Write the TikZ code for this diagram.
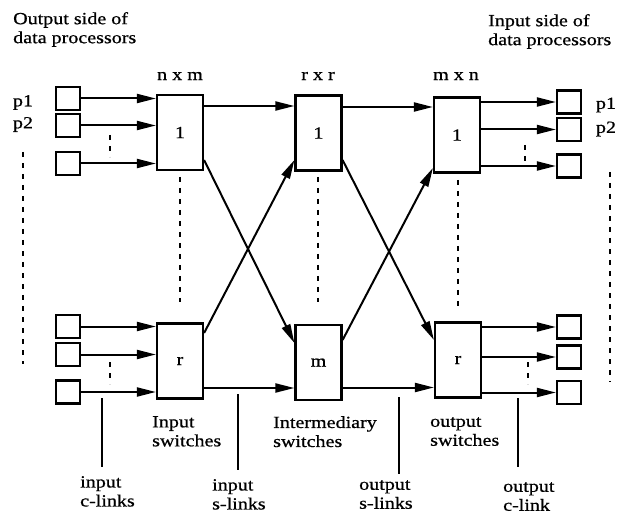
\documentclass[tikz,border=0pt]{standalone}
\usepackage{fontspec}
\setmainfont{Liberation Serif}[FakeStretch=1.18,FakeBold=0.7]
\usetikzlibrary{arrows.meta,calc}
\newcommand\dfont{\fontsize{17}{19}\selectfont}
\begin{document}
\begin{tikzpicture}[x=1pt,y=-1pt,
  pbox/.style={draw,line width=2.2pt,minimum width=24pt,minimum height=23pt,inner sep=0},
  sw/.style={draw,line width=2.2pt,minimum width=46pt,minimum height=75pt,inner sep=0,font=\dfont},
  arr/.style={line width=2pt,-{Triangle[length=19pt,width=9pt]}},
  dots/.style={line width=2.6pt,dash pattern=on 5pt off 6pt},
  tick/.style={line width=1.8pt},
  lbl/.style={font=\dfont,inner sep=0,anchor=north west,align=left},
  plbl/.style={font=\dfont,inner sep=0},
]
\useasboundingbox (0,0) rectangle (622,516);
% processor boxes left
\node[pbox] (l1) at (68,98.5) {};
\node[pbox] (l2) at (68,125.5) {};
\node[pbox] (l3) at (68,163.5) {};
\node[pbox] (l4) at (68,326.5) {};
\node[pbox] (l5) at (68,354.5) {};
\node[pbox] (l6) at (68,392) {};
% switches
\node[sw] (i1) at (180,132.5) {1};
\node[sw] (ir) at (180,361) {r};
\node[sw] (m1) at (318.5,133) {1};
\node[sw] (mm) at (318.5,362.5) {m};
\node[sw] (o1) at (457,135) {1};
\node[sw] (or) at (458,360) {r};
% processor boxes right
\node[pbox] (r1) at (569,102) {};
\node[pbox] (r2) at (569,129.5) {};
\node[pbox] (r3) at (569,166) {};
\node[pbox] (r4) at (569,327) {};
\node[pbox] (r5) at (569,357) {};
\node[pbox] (r6) at (569,392.5) {};
% input c-links
\foreach \b/\s in {l1/i1,l2/i1,l3/i1,l4/ir,l5/ir,l6/ir}
  \draw[arr] (\b.east) -- (\b.east -| \s.west);
% output c-links
\foreach \b/\s in {r1/o1,r2/o1,r3/o1,r4/or,r5/or,r6/or}
  \draw[arr] (\s.east |- \b.west) -- (\b.west);
% straight s-links
\draw[arr] ([yshift=26.5pt]i1.east) -- ([yshift=26.5pt]i1.east -| m1.west);
\draw[arr] ([yshift=-27pt]ir.east) -- ([yshift=-27pt]ir.east -| mm.west);
\draw[arr] ([yshift=26pt]m1.east) -- ([yshift=26pt]m1.east -| o1.west);
\draw[arr] ([yshift=-25pt]mm.east) -- ([yshift=-25pt]mm.east -| or.west);
% crossing s-links
\draw[arr] ([yshift=-27.5pt]i1.east) -- ([yshift=19.5pt]mm.west);
\draw[arr] ([yshift=28pt]ir.east) -- ([yshift=-27pt]m1.west);
\draw[arr] ([yshift=-27pt]m1.east) -- ([yshift=20pt]or.west);
\draw[arr] ([yshift=22.5pt]mm.east) -- ([yshift=-33pt]o1.west);
% dotted lines
\draw[dots] (110,135) -- (110,157);
\draw[dots] (110,362) -- (110,384);
\draw[dots] (525,145) -- (525,162);
\draw[dots] (528,362) -- (528,384);
\draw[dots] (23,152) -- (23,364);
\draw[dots] (610,172) -- (610,382);
\draw[dots] (180,177) -- (180,302);
\draw[dots] (318,177) -- (318,302);
\draw[dots] (458,180) -- (458,306);
% label lines
\draw[tick] (102,398) -- (102,467);
\draw[tick] (238,394) -- (238,470);
\draw[tick] (399,397) -- (399,474);
\draw[tick] (518,398) -- (518,467);
% texts
\node[lbl] (tl) at (13,12) {Output side of\\data processors};
\node[lbl] (tr) at (488,14) {Input side of\\data processors};
\node[plbl] (hp1) at (23,102.5) {p1};
\node[plbl] (hp2) at (23,124.5) {p2};
\node[plbl] (hq1) at (606,105) {p1};
\node[plbl] (hq2) at (606,129) {p2};
\node[plbl] (h1) at (180,76) {n x m};
\node[plbl] (h2) at (318,76) {r x r};
\node[plbl] (h3) at (456,76) {m x n};
\node[lbl] (s1) at (152,416) {Input\\switches};
\node[lbl] (s2) at (273,416) {Intermediary\\switches};
\node[lbl] (s3) at (430,417) {output\\switches};
\node[lbl] (c1) at (80,476) {input\\c-links};
\node[lbl] (c2) at (212,479) {input\\s-links};
\node[lbl] (c3) at (359,480) {output\\s-links};
\node[lbl] (c4) at (503,482) {output\\c-link};
\end{tikzpicture}
\end{document}
